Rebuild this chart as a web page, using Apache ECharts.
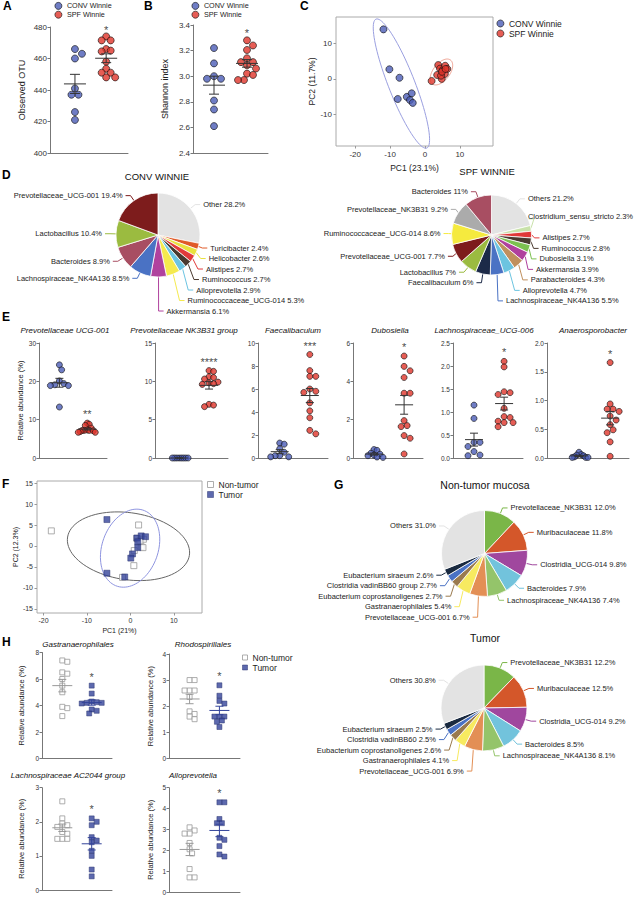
<!DOCTYPE html>
<html>
<head>
<meta charset="utf-8">
<script src="https://cdn.jsdelivr.net/npm/echarts@6/dist/echarts.min.js"></script>
<style>
  html, body { margin: 0; padding: 0; background: #fff; }
  #chart { width: 637px; height: 900px; }
</style>
</head>
<body>
<div id="chart"></div>
<script>
// ---------- data ----------
const groupsWinnie = ['CONV Winnie', 'SPF Winnie']
const groupsMucosa = ['Non-tumor', 'Tumor']

// A / B
const otuConv = [466, 463, 460, 441, 437, 437, 426, 421]
const otuSpf = [474, 471.5, 471.5, 466, 465, 464.5, 458, 453.5, 451, 451, 448, 448]
const shannonConv = [3.22, 3.10, 3.00, 2.98, 2.98, 2.81, 2.74, 2.61]
const shannonSpf = [3.28, 3.24, 3.205, 3.14, 3.11, 3.11, 3.085, 3.06, 3.02, 3.01, 2.97, 2.97]

// C  (PC1, PC2)
const pcaConv = [[-11.9, 14.0], [-10.2, 2.7], [-7.3, 0.3], [-7.8, -5.7], [-5.2, -5.1], [-3.8, -4.1], [-4.3, -6.0], [-3.5, -6.8]]
const pcaSpf = [[1.9, -0.6], [3.8, 3.9], [4.3, 2.9], [5.0, 2.4], [5.8, 3.7], [6.4, 2.8], [3.5, 1.1], [4.8, 0], [5.7, 1.4], [4.6, 0.9], [4.9, 2.0], [5.9, 2.8]]

// D
const convNames = ['Other', 'Turicibacter', 'Helicobacter', 'Alistipes', 'Ruminococcus', 'Alloprevotella',
  'Ruminococcaceae_UCG-014', 'Akkermansia', 'Lachnospiraceae_NK4A136', 'Bacteroides', 'Lactobacillus', 'Prevotellaceae_UCG-001']
const convShare = [28.2, 2.4, 2.6, 2.7, 2.7, 2.9, 5.3, 6.1, 8.5, 8.9, 10.4, 19.4]
const spfNames = ['Others', 'Clostridium_sensu_stricto', 'Alistipes', 'Ruminococcus', 'Dubosiella', 'Akkermansia',
  'Parabacteroides', 'Alloprevotella', 'Lachnospiraceae_NK4A136', 'Faecalibaculum', 'Lactobacillus',
  'Prevotellaceae_UCG-001', 'Ruminococcaceae_UCG-014', 'Prevotellaceae_NK3B31', 'Bacteroides']
const spfShare = [21.2, 2.3, 2.7, 2.8, 3.1, 3.9, 4.3, 4.7, 5.5, 6, 7, 7.7, 8.6, 9.2, 11]

// E
const eTitles = ['Prevotellaceae UCG-001', 'Prevotellaceae NK3B31 group', 'Faecalibaculum', 'Dubosiella',
  'Lachnospiraceae_UCG-006', 'Anaerosporobacter']
const eConv = [
  [24.3, 23.0, 20.1, 19.4, 19.1, 18.9, 18.9, 13.3],
  [0, 0, 0, 0, 0, 0, 0, 0],
  [1.3, 1.2, 0.8, 0.5, 0.2, 0.2, 0.1, 0.1],
  [0.44, 0.40, 0.25, 0.2, 0.15, 0.12, 0.05, 0.03],
  [1.15, 0.86, 0.34, 0.34, 0.25, 0.14, 0.065, 0.05],
  [0.1, 0.06, 0.05, 0.04, 0.02, 0.01, 0.01, 0.01],
]
const eSpf = [
  [9.1, 8.8, 8.5, 7.8, 7.3, 7.2, 7.2, 7.2, 7.1, 6.9, 6.7, 6.7],
  [11.4, 11.3, 10.6, 10.5, 10.3, 9.9, 9.8, 9.7, 9.6, 7.0, 6.9, 6.7],
  [9.0, 7.6, 7.1, 7.1, 6.0, 5.8, 5.7, 4.8, 4.1, 3.5, 2.4, 2.1],
  [5.32, 4.78, 4.55, 4.2, 3.38, 3.38, 1.95, 1.69, 1.64, 1.17, 1.03, 0.21],
  [2.1, 1.98, 1.44, 1.42, 1.38, 1.08, 0.9, 0.88, 0.8, 0.77, 0.77, 0.68],
  [1.66, 0.94, 0.85, 0.85, 0.81, 0.73, 0.66, 0.58, 0.49, 0.44, 0.28, 0.03],
]
const eMax = [30, 15, 10, 6, 2.5, 2]
const eStep = [10, 5, 2, 2, 0.5, 0.5]
const eStars = ['**', '****', '***', '*', '*', '*']

// F  (PC1, PC2)
const pcaNonTumor = [[-18.2, 3.6], [1.9, 5.0], [3.0, 1.6], [2.5, -0.2], [2.9, -0.4], [0.9, -1.1], [0.8, -4.7], [-1.8, -7.5], [1.5, 1.8], [2.2, 1.2]]
const pcaTumor = [[-5.4, 6.3], [-5.4, -6.5], [-1.3, -7.4], [1.5, 1.9], [2.5, 2.4], [3.5, 2.2], [1.7, 1.0], [1.7, -0.4], [0.5, -1.9], [0.1, -2.9]]

// G
const mucosaNames = ['Prevotellaceae_NK3B31', 'Muribaculaceae', 'Clostridia_UCG-014', 'Bacteroides', 'Lachnospiraceae_NK4A136',
  'Prevotellaceae_UCG-001', 'Gastranaerophilales', 'Eubacterium coprostanoligenes', 'Clostridia vadinBB60 group',
  'Eubacterium siraeum', 'Others']
const nonTumorShare = [12.0, 11.8, 9.8, 7.9, 7.4, 6.7, 5.4, 2.7, 2.7, 2.6, 31.0]
const tumorNames = ['Prevotellaceae_NK3B31', 'Muribaculaceae', 'Clostridia_UCG-014', 'Bacteroides', 'Lachnospiraceae_NK4A136',
  'Prevotellaceae_UCG-001', 'Gastranaerophilales', 'Eubacterium coprostanoligenes', 'Clostridia vadinBB60',
  'Eubacterium siraeum', 'Others']
const tumorShare = [12.2, 12.5, 9.2, 8.5, 8.1, 6.9, 4.1, 2.6, 2.5, 2.5, 30.8]

// H
const hTitles = ['Gastranaerophilales', 'Rhodospirillales', 'Lachnospiraceae AC2044 group', 'Alloprevotella']
const hNonTumor = [
  [7.4, 7.3, 6.5, 6.4, 6.0, 5.5, 5.0, 3.9, 3.8, 3.2],
  [3.0, 3.0, 2.6, 2.6, 2.6, 2.35, 1.8, 1.7, 1.6, 1.5],
  [2.6, 2.1, 1.95, 1.9, 1.85, 1.7, 1.65, 1.5, 1.5, 1.5],
  [3.1, 2.95, 2.8, 2.8, 2.35, 2.05, 1.85, 1.1, 0.7, 0.7],
]
const hTumor = [
  [5.5, 4.9, 4.3, 4.25, 4.2, 4.2, 4.15, 3.7, 3.6, 3.4],
  [2.8, 2.4, 2.2, 2.1, 1.6, 1.6, 1.6, 1.45, 1.4, 1.2],
  [2.1, 2.0, 1.9, 1.55, 1.45, 1.4, 1.15, 1.0, 0.6, 0.4],
  [4.3, 4.3, 3.5, 3.3, 3.3, 2.6, 2.5, 2.2, 1.8, 1.7],
]
const hMax = [8, 4, 3, 5]
const hStep = [2, 1, 1, 1]
const hStars = ['*', '*', '*', '*']

// ---------- styles ----------
const W = 637
const FONT = '"Liberation Sans", Arial, sans-serif'
const AXIS = '#777'
const PIE_FONT = 7.5
const convStyle = { color: '#4b5cb6', borderColor: '#111', borderWidth: 0.8 }
const spfStyle = { color: '#e0352b', borderColor: '#111', borderWidth: 0.8 }
const nonTumorStyle = { color: '#fff', borderColor: '#9a9a9a', borderWidth: 1 }
const tumorStyle = { color: '#34449a', borderColor: '#25306e', borderWidth: 0.6 }
const convPalette = ['#e3e3e3', '#e05a28', '#e9e23e', '#e23a3a', '#4a3a30', '#6cc4e2',
  '#f5ea4e', '#b0429e', '#4a72c4', '#a84e62', '#9bbb40', '#7d1c1c']
const spfPalette = ['#e3e3e3', '#c9e2aa', '#e03838', '#4a3a30', '#7cc050', '#b0409e',
  '#c0905e', '#6cc4e0', '#4a72c4', '#1c2a48', '#9bbb40', '#7d1c1c', '#f5ea3e', '#ababab', '#a84e62']
const mucosaPalette = ['#7ab648', '#d4572a', '#a0479e', '#72c3dc', '#94c46a', '#e38f55',
  '#f7ea60', '#9a7a4e', '#4a72c4', '#1a2a40', '#e3e3e3']

const grids = [], xAxes = [], yAxes = [], series = [], legends = [], graphics = []

const measureCtx = document.createElement('canvas').getContext('2d')
function textWidth(str, size) {
  measureCtx.font = size + 'px ' + FONT
  return measureCtx.measureText(str).width
}

function mean(a) { return a.reduce((s, v) => s + v, 0) / a.length }
function sem(a) {
  const m = mean(a)
  const sd = Math.sqrt(a.reduce((s, v) => s + (v - m) * (v - m), 0) / (a.length - 1))
  return sd / Math.sqrt(a.length)
}

// simple beeswarm: x offsets (px) so dots do not overlap too much
function swarm(vals, ppu, d, maxHalf) {
  const order = vals.map((v, i) => i).sort((a, b) => vals[b] - vals[a])
  const placed = []
  const off = new Array(vals.length).fill(0)
  order.forEach(i => {
    const y = vals[i] * ppu
    for (let k = 0; k < 60; k++) {
      const cand = (k % 2 ? 1 : -1) * Math.ceil(k / 2) * d * 0.5
      const ok = placed.every(p => (p[0] - cand) ** 2 + (p[1] - y) ** 2 >= (0.92 * d) ** 2)
      if (ok) { off[i] = cand; placed.push([cand, y]); break }
    }
  })
  const mx = Math.max(...off.map(Math.abs))
  return mx > maxHalf ? off.map(o => o * maxHalf / mx) : off
}

function text(str, x, y, opt) {
  graphics.push({
    type: 'text', x, y, silent: true,
    style: Object.assign({
      text: str, fontFamily: FONT, fontSize: 9, fill: '#111',
      textAlign: 'center', textVerticalAlign: 'middle',
    }, opt || {}),
  })
}

function meanSemRender(halfBar, halfCap, color) {
  return (params, api) => {
    const c = api.value(0), m = api.value(1), s = api.value(2)
    const pm = api.coord([c, m]), pt = api.coord([c, m + s]), pb = api.coord([c, m - s])
    const st = { stroke: color, lineWidth: 1 }
    return {
      type: 'group',
      children: [
        { type: 'line', shape: { x1: pm[0] - halfBar, y1: pm[1], x2: pm[0] + halfBar, y2: pm[1] }, style: st },
        { type: 'line', shape: { x1: pt[0], y1: pt[1], x2: pb[0], y2: pb[1] }, style: st },
        { type: 'line', shape: { x1: pt[0] - halfCap, y1: pt[1], x2: pt[0] + halfCap, y2: pt[1] }, style: st },
        { type: 'line', shape: { x1: pb[0] - halfCap, y1: pb[1], x2: pb[0] + halfCap, y2: pb[1] }, style: st },
      ],
    }
  }
}

function dotPlot(p) {
  const gi = grids.length
  const [left, top, width, height] = p.box
  grids.push({ left, top, width, height })
  xAxes.push({
    gridIndex: gi, type: 'value', min: 0, max: 1,
    axisLine: { show: true, onZero: false, lineStyle: { color: AXIS, width: 1 } },
    axisTick: { show: false }, axisLabel: { show: false }, splitLine: { show: false },
  })
  yAxes.push({
    gridIndex: gi, type: 'value', min: p.min, max: p.max, interval: p.step,
    name: p.yName, nameLocation: 'middle', nameGap: p.nameGap,
    nameTextStyle: { fontSize: p.nameSize, color: '#222', fontFamily: FONT },
    axisLine: { show: true, onZero: false, lineStyle: { color: AXIS, width: 1 } },
    axisTick: { show: true, length: 2.5, lineStyle: { color: AXIS } },
    axisLabel: { fontSize: p.labelSize, color: '#333', margin: 3, fontFamily: FONT, formatter: v => v.toFixed(p.dec) },
    splitLine: { show: false },
  })
  const ppu = height / (p.max - p.min)
  p.groups.forEach(g => {
    const offs = swarm(g.values, ppu, g.size, p.spread)
    series.push({
      type: 'scatter', name: g.name, xAxisIndex: gi, yAxisIndex: gi, silent: true, z: 2,
      symbol: g.symbol, symbolSize: g.size, itemStyle: g.style,
      data: g.values.map((v, i) => [g.pos + offs[i] / width, v]),
    })
    series.push({
      type: 'custom', xAxisIndex: gi, yAxisIndex: gi, silent: true, z: 3,
      renderItem: meanSemRender(p.halfBar, p.halfCap, g.bar),
      data: [[g.pos, mean(g.values), sem(g.values)]],
    })
  })
  const last = p.groups[p.groups.length - 1]
  series.push({
    type: 'scatter', xAxisIndex: gi, yAxisIndex: gi, silent: true, z: 4,
    symbolSize: 1, itemStyle: { color: 'transparent' },
    label: { show: true, position: 'top', distance: p.starGap, formatter: p.star, fontSize: 11, color: '#111', fontFamily: FONT },
    data: [[last.pos, Math.max(...last.values)]],
  })
  if (p.title) text(p.title, p.titleX, p.titleY, { fontSize: 8, fontStyle: 'italic' })
}

function ellipseOf(pts, k) {
  const n = pts.length
  const mx = mean(pts.map(q => q[0])), my = mean(pts.map(q => q[1]))
  let sxx = 0, syy = 0, sxy = 0
  pts.forEach(q => { const dx = q[0] - mx, dy = q[1] - my; sxx += dx * dx; syy += dy * dy; sxy += dx * dy })
  sxx /= n - 1; syy /= n - 1; sxy /= n - 1
  const tr = sxx + syy, det = sxx * syy - sxy * sxy
  const disc = Math.sqrt(Math.max(tr * tr / 4 - det, 0))
  const l1 = tr / 2 + disc, l2 = Math.max(tr / 2 - disc, 0)
  const a = Math.atan2(l1 - sxx, sxy)
  const out = []
  for (let i = 0; i <= 90; i++) {
    const t = 2 * Math.PI * i / 90
    const u = k * Math.sqrt(l1) * Math.cos(t), v = k * Math.sqrt(l2) * Math.sin(t)
    out.push([mx + u * Math.cos(a) - v * Math.sin(a), my + u * Math.sin(a) + v * Math.cos(a)])
  }
  return out
}

function pcaPlot(p) {
  const gi = grids.length
  const [left, top, width, height] = p.box
  grids.push({ left, top, width, height, show: true, borderColor: '#aaa', borderWidth: 1 })
  const mkAxis = (r, ticks, name, gap) => ({
    gridIndex: gi, type: 'value', min: r[0], max: r[1],
    name, nameLocation: 'middle', nameGap: gap,
    nameTextStyle: { fontSize: p.nameSize, color: '#222', fontFamily: FONT },
    axisLine: { show: false, onZero: false },
    axisTick: { show: true, length: 2.5, lineStyle: { color: '#999' }, customValues: ticks },
    axisLabel: { fontSize: p.labelSize, color: '#333', margin: 4, fontFamily: FONT, customValues: ticks },
    splitLine: { show: false },
  })
  xAxes.push(mkAxis(p.xRange, p.xTicks, p.xName, p.xGap))
  yAxes.push(mkAxis(p.yRange, p.yTicks, p.yName, p.yGap))
  p.groups.forEach(g => {
    const ring = ellipseOf(g.points, p.k)
    series.push({
      type: 'custom', xAxisIndex: gi, yAxisIndex: gi, silent: true, z: 1,
      renderItem: (params, api) => ({
        type: 'polyline', shape: { points: ring.map(q => api.coord(q)) },
        style: { fill: 'none', stroke: g.ring, lineWidth: 1 },
      }),
      data: [[0, 0]],
    })
  })
  p.groups.forEach(g => {
    series.push({
      type: 'scatter', name: g.name, xAxisIndex: gi, yAxisIndex: gi, silent: true, z: 2,
      symbol: g.symbol, symbolSize: g.size, itemStyle: g.style, data: g.points,
    })
  })
}

// keeps right-hand pie labels inside the canvas: slides them left and up, redraws the leader line
function keepInside(params) {
  if (params.align !== 'left' || !params.labelLinePoints) return {}
  const w = textWidth(params.text, PIE_FONT)
  const over = params.labelRect.x + w - (W - 4)
  if (over <= 0) return {}
  const dx = -over, dy = -over * 0.75
  const x = params.labelRect.x + dx - 1
  const y = params.labelRect.y + params.labelRect.height / 2 + dy + 2
  const p0 = params.labelLinePoints[0]
  return { dx, dy, labelLinePoints: [p0, [p0[0] + 3, y], [x, y]] }
}

function piePlot(names, values, palette, cx, cy, r, dec) {
  series.push({
    type: 'pie', center: [cx, cy], radius: r, startAngle: 90, clockwise: true, silent: true,
    itemStyle: { borderColor: '#fff', borderWidth: 0.8 },
    label: {
      show: true, fontSize: PIE_FONT, lineHeight: 8.5, color: '#222', fontFamily: FONT, overflow: 'none',
      distanceToLabelLine: 3,
      formatter: q => q.name + ' ' + (dec ? q.value.toFixed(dec) : q.value) + '%',
    },
    labelLine: { show: true, length: 6, length2: 5, lineStyle: { width: 1 } },
    labelLayout: keepInside,
    data: names.map((n, i) => ({ name: n, value: values[i], itemStyle: { color: palette[i] } })),
  })
}

function legend(names, styles, icon, left, top, size, font) {
  legends.push({
    left, top, orient: 'vertical', itemGap: 1, itemWidth: size, itemHeight: size, padding: 0,
    selectedMode: false, textStyle: { fontSize: font, color: '#222', fontFamily: FONT },
    data: names.map((n, i) => ({ name: n, icon, itemStyle: styles[i] })),
  })
}

// ---------- A / B ----------
const winnieGroups = (a, b, pos, size) => [
  { name: groupsWinnie[0], values: a, pos: pos[0], symbol: 'circle', size, style: convStyle, bar: '#333' },
  { name: groupsWinnie[1], values: b, pos: pos[1], symbol: 'circle', size, style: spfStyle, bar: '#333' },
]
dotPlot({ box: [50, 27, 78, 126], min: 400, max: 480, step: 20, dec: 0, yName: 'Observed OTU', nameGap: 24,
  nameSize: 9, labelSize: 8, spread: 9, halfBar: 11, halfCap: 5, star: '*', starGap: 0,
  groups: winnieGroups(otuConv, otuSpf, [0.32, 0.72], 7) })
dotPlot({ box: [193, 25, 75, 128], min: 2.4, max: 3.4, step: 0.2, dec: 1, yName: 'Shannon index', nameGap: 24,
  nameSize: 9, labelSize: 8, spread: 9, halfBar: 11, halfCap: 5, star: '*', starGap: 1,
  groups: winnieGroups(shannonConv, shannonSpf, [0.28, 0.72], 7) })
legend(groupsWinnie, [convStyle, spfStyle], 'circle', 54.5, 2, 7, 7.2)
legend(groupsWinnie, [convStyle, spfStyle], 'circle', 191.5, 2, 7, 7.2)

// ---------- C ----------
pcaPlot({ box: [336, 17, 157, 129], xRange: [-25.5, 19.5], yRange: [-19, 17.5],
  xTicks: [-20, -10, 0, 10], yTicks: [-10, 0, 10], xName: 'PC1 (23.1%)', yName: 'PC2 (11.7%)',
  xGap: 17, yGap: 16, nameSize: 8.5, labelSize: 8, k: 2.6,
  groups: [
    { name: groupsWinnie[0], points: pcaConv, symbol: 'circle', size: 7, style: convStyle, ring: '#9a9fe0' },
    { name: groupsWinnie[1], points: pcaSpf, symbol: 'circle', size: 7, style: spfStyle, ring: '#f0a090' },
  ] })
legend(groupsWinnie, [convStyle, spfStyle], 'circle', 496.5, 19, 7, 8.5)

// ---------- D ----------
piePlot(convNames, convShare, convPalette, 158, 235, 42, 0)
piePlot(spfNames, spfShare, spfPalette, 491.5, 235, 40, 0)
text('CONV WINNIE', 157, 176, { fontSize: 9.5 })
text('SPF WINNIE', 487, 171, { fontSize: 9.5 })

// ---------- E ----------
const eBoxes = [[39, 68], [155, 73], [258, 70], [353, 70], [453, 70], [547, 82]]
const ePos = [[0.3, 0.71], [0.33, 0.74], [0.31, 0.74], [0.3, 0.73], [0.3, 0.73], [0.39, 0.77]]
const eTitleX = [65, 184, 293, 390, 484, 593]
eTitles.forEach((t, i) => {
  dotPlot({ box: [eBoxes[i][0], 343, eBoxes[i][1], 115], min: 0, max: eMax[i], step: eStep[i],
    dec: eStep[i] < 1 ? 1 : 0, yName: i === 0 ? 'Relative abundance (%)' : '', nameGap: 14,
    nameSize: 7.5, labelSize: 6.5, spread: 9, halfBar: 9, halfCap: 4, star: eStars[i], starGap: 3,
    title: t, titleX: eTitleX[i], titleY: 330,
    groups: winnieGroups(eConv[i], eSpf[i], ePos[i], 6) })
})

// ---------- F ----------
pcaPlot({ box: [37, 481, 165, 132], xRange: [-21.5, 16.5], yRange: [-16, 15.5],
  xTicks: [-20, -10, 0, 10], yTicks: [-15, -10, -5, 0, 5, 10, 15], xName: 'PC1 (21%)', yName: 'PC2 (12.3%)',
  xGap: 14, yGap: 15, nameSize: 7, labelSize: 7, k: 2.2,
  groups: [
    { name: groupsMucosa[0], points: pcaNonTumor, symbol: 'rect', size: 6, style: nonTumorStyle, ring: '#666' },
    { name: groupsMucosa[1], points: pcaTumor, symbol: 'rect', size: 6, style: tumorStyle, ring: '#8f95e0' },
  ] })
legend(groupsMucosa, [nonTumorStyle, tumorStyle], 'rect', 207, 480, 6, 8.5)

// ---------- G ----------
piePlot(mucosaNames, nonTumorShare, mucosaPalette, 484.5, 553.5, 43, 1)
piePlot(tumorNames, tumorShare, mucosaPalette, 484, 708, 43, 1)
text('Non-tumor mucosa', 485, 485, { fontSize: 10.5 })
text('Tumor', 485, 638, { fontSize: 10.5 })

// ---------- H ----------
const hBoxes = [[42, 652.5, 70, 106], [169, 654, 71, 104.3], [42, 787.7, 70, 102.3], [169, 787.7, 71, 104.3]]
const hTitleXY = [[78, 644], [203, 644], [68, 775], [193, 775]]
hTitles.forEach((t, i) => {
  dotPlot({ box: hBoxes[i], min: 0, max: hMax[i], step: hStep[i], dec: 0,
    yName: 'Relative abundance (%)', nameGap: i % 2 ? 15 : 17,
    nameSize: 7.5, labelSize: 6.5, spread: 10, halfBar: 10, halfCap: 4, star: hStars[i], starGap: 3,
    title: t, titleX: hTitleXY[i][0], titleY: hTitleXY[i][1],
    groups: [
      { name: groupsMucosa[0], values: hNonTumor[i], pos: 0.29, symbol: 'rect', size: 5, style: nonTumorStyle, bar: '#999' },
      { name: groupsMucosa[1], values: hTumor[i], pos: 0.71, symbol: 'rect', size: 5, style: tumorStyle, bar: '#34449a' },
    ] })
})
legend(groupsMucosa, [nonTumorStyle, tumorStyle], 'rect', 242, 653, 5, 8.5)

// ---------- panel letters ----------
const letters = [['A', 3, 0], ['B', 144, 0], ['C', 300, 0], ['D', 2, 169], ['E', 2, 311], ['F', 2, 478], ['G', 334, 479], ['H', 2, 636]]
letters.forEach(l => text(l[0], l[1], l[2], { fontSize: 12, fontWeight: 'bold', textAlign: 'left', textVerticalAlign: 'top', fill: '#000' }))

const chart = echarts.init(document.getElementById('chart'), null, { renderer: 'svg' })
chart.setOption({
  animation: false,
  backgroundColor: '#fff',
  textStyle: { fontFamily: FONT },
  grid: grids,
  xAxis: xAxes,
  yAxis: yAxes,
  legend: legends,
  graphic: graphics,
  series,
})
</script>
</body>
</html>
